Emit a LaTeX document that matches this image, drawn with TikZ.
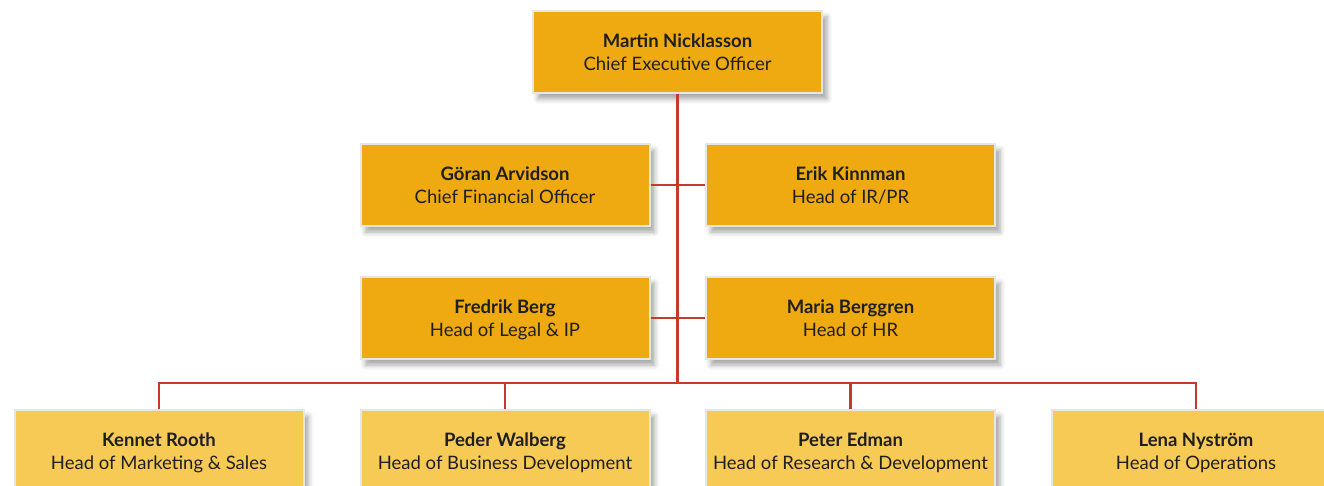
\documentclass[tikz,border=0pt]{standalone}
\usepackage{fontspec}
\setmainfont{Lato}
\usetikzlibrary{shadows.blur}
\definecolor{boxdark}{HTML}{EEAA10}
\definecolor{boxlight}{HTML}{F7CA56}
\definecolor{boxrim}{HTML}{E6E6E6}
\definecolor{linered}{HTML}{C63A2B}
\newcommand{\person}[2]{\textbf{#1}\rule{0pt}{\dimexpr\ht\strutbox+5pt\relax}\\#2\strut}
\tikzset{
  orgbox/.style={draw=boxrim, line width=2pt, fill=boxdark, minimum width=289pt, minimum height=82pt,
    inner sep=0pt, align=center, font=\fontsize{18.5}{23}\selectfont, text=black!88,
    blur shadow={shadow xshift=5pt, shadow yshift=-6pt, shadow blur radius=5pt, shadow opacity=35}},
  lightbox/.style={orgbox, fill=boxlight},
  conn/.style={draw=linered, line width=2.4pt}
}
\begin{document}
\begin{tikzpicture}[x=1pt,y=-1pt]
\useasboundingbox (0,0) rectangle (1324,486);
\clip (0,0) rectangle (1324,486);
\node[orgbox] (ceo) at (677.5,52) {\person{Martin Nicklasson}{Chief Executive Officer}};
\node[orgbox] (ga) at (505,185) {\person{Göran Arvidson}{Chief Financial Officer}};
\node[orgbox] (ek) at (850.5,185) {\person{Erik Kinnman}{Head of IR/PR}};
\node[orgbox] (fb) at (505,318) {\person{Fredrik Berg}{Head of Legal \& IP}};
\node[orgbox] (mb) at (850.5,318) {\person{Maria Berggren}{Head of HR}};
\node[lightbox] (kr) at (159,451) {\person{Kennet Rooth}{Head of Marketing \& Sales}};
\node[lightbox] (pw) at (505,451) {\person{Peder Walberg}{Head of Business Development}};
\node[lightbox] (pe) at (850.5,451) {\person{Peter Edman}{Head of Research \& Development}};
\node[lightbox] (ln) at (1196,451) {\person{Lena Nyström}{Head of Operations}};
\coordinate (bus) at (677.5,383);
\draw[conn] (ceo.south) -- (bus);
\draw[conn] (ga.east) -- (ek.west);
\draw[conn] (fb.east) -- (mb.west);
\draw[conn] (kr.north) |- (bus) -| (ln.north);
\draw[conn] (pw.north) -- (pw.north |- bus);
\draw[conn] (pe.north) -- (pe.north |- bus);
\end{tikzpicture}
\end{document}
